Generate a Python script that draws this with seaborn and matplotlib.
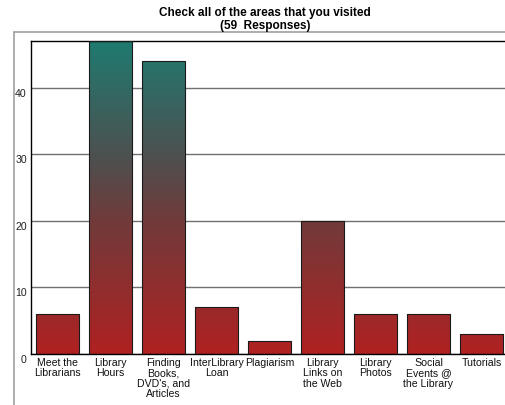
import matplotlib
matplotlib.use('Agg')
import matplotlib.pyplot as plt
import seaborn as sns
import numpy as np
import pandas as pd
from matplotlib.colors import LinearSegmentedColormap
from matplotlib.lines import Line2D

categories = ["Meet the\nLibrarians", "Library\nHours", "Finding\nBooks,\nDVD's, and\nArticles",
              "InterLibrary\nLoan", "Plagiarism", "Library\nLinks on\nthe Web", "Library\nPhotos",
              "Social\nEvents @\nthe Library", "Tutorials"]
counts = [6, 47, 44, 7, 2, 20, 6, 6, 3]
y_ticks = [0, 10, 20, 30, 40]
title = "Check all of the areas that you visited\n(59  Responses)"

sns.set_theme(style="white")
plt.rcParams['font.family'] = ['Liberation Sans', 'DejaVu Sans']

W, H = 506, 406
fig = plt.figure(figsize=(W / 100, H / 100), dpi=100)
ax = fig.add_axes([31 / W, 1 - 355 / H, 477 / W, 313 / H])

df = pd.DataFrame({"cat": categories, "n": counts})
sns.barplot(data=df, x="cat", y="n", ax=ax, width=0.83, color="#b22222",
            edgecolor="#1a1a1a", linewidth=0.8, zorder=3)

ymax = 47
cmap = LinearSegmentedColormap.from_list(
    "g", [(0, (0.69, 0.13, 0.13)), (0.43, (0.44, 0.23, 0.23)),
          (0.62, (0.31, 0.31, 0.31)), (1, (0.12, 0.48, 0.44))])
grad = np.linspace(0, 1, 256).reshape(-1, 1)
for p in list(ax.patches):
    x0 = p.get_x(); w = p.get_width()
    im = ax.imshow(grad, cmap=cmap, origin='lower', extent=[x0, x0 + w, 0, ymax],
                   aspect='auto', zorder=2.5, vmin=0, vmax=1, interpolation='bilinear')
    im.set_clip_path(p)
    p.set_facecolor('none')

ax.set_ylim(0, ymax)
ax.set_xlim(-0.5, len(categories) - 0.5)
ax.set_aspect('auto')
ax.set_xlabel("")
ax.set_ylabel("")
ax.set_yticks(y_ticks)
ax.set_yticklabels([str(t) for t in y_ticks])
ax.yaxis.grid(True, color='#707070', linewidth=1)
ax.set_axisbelow(True)

ax.set_xticks(np.arange(-0.5, len(categories)), minor=True)
ax.tick_params(axis='x', which='major', length=0, pad=2, labelsize=7.6, colors='#111111')
ax.tick_params(axis='x', which='minor', length=2, width=1.5, direction='out', color='#222222')
ax.tick_params(axis='y', length=0, pad=3, labelsize=7.6, colors='#222222')
for lab in ax.get_xticklabels():
    lab.set_linespacing(1.05)
for lab in ax.get_yticklabels():
    lab.set_va('top')

for s in ['left', 'top', 'bottom']:
    ax.spines[s].set_visible(True)
    ax.spines[s].set_color('black')
    ax.spines[s].set_linewidth(1)
ax.spines['right'].set_visible(False)

fig.text(265 / W, 1 - 7 / H, title, ha='center', va='top', fontsize=8.5,
         fontweight='bold', linespacing=1.15, color='black')

fig.add_artist(Line2D([14 / W, 14 / W], [0, 1 - 33 / H], transform=fig.transFigure,
                      color='#a0a0a0', lw=1.2))
fig.add_artist(Line2D([14 / W, 1], [1 - 33 / H, 1 - 33 / H], transform=fig.transFigure,
                      color='#a0a0a0', lw=1.2))

fig.savefig("out.png", dpi=100)
